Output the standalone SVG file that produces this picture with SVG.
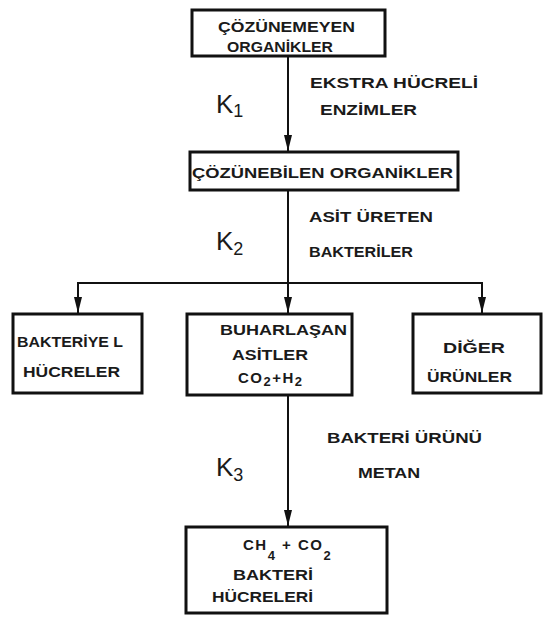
<svg xmlns="http://www.w3.org/2000/svg" width="546" height="619" viewBox="0 0 546 619">
<defs>
<style>
.box{fill:#fff;stroke:#111;stroke-width:3}
.ln{fill:none;stroke:#111;stroke-width:2}
.t{font-family:"Liberation Sans",Arial,sans-serif;font-weight:bold;font-size:15px;fill:#1a1a1a}
.k{font-family:"Liberation Sans",Arial,sans-serif;font-size:26px;fill:#1a1a1a}
.ks{font-family:"Liberation Sans",Arial,sans-serif;font-size:18px;fill:#1a1a1a}
.s{font-family:"Liberation Sans",Arial,sans-serif;font-weight:bold;font-size:13px;fill:#1a1a1a}
.f{letter-spacing:1.5px}
</style>
<marker id="ah" viewBox="0 0 16 8" refX="16" refY="4" markerWidth="16" markerHeight="8" markerUnits="userSpaceOnUse" orient="auto-start-reverse">
<path d="M0,0 L16,4 L0,8 Z" fill="#111"/>
</marker>
</defs>
<g id="connectors">
<line class="ln" x1="288" y1="57" x2="288" y2="151" marker-end="url(#ah)"/>
<line class="ln" x1="288" y1="190" x2="288" y2="313" marker-end="url(#ah)"/>
<polyline class="ln" points="78,313 78,283 482,283 482,313" marker-start="url(#ah)" marker-end="url(#ah)"/>
<line class="ln" x1="288" y1="395" x2="288" y2="526" marker-end="url(#ah)"/>
</g>
<g id="n1">
<rect class="box" x="192" y="10" width="193" height="46"/>
<text class="t" x="218" y="32" textLength="137" lengthAdjust="spacingAndGlyphs">ÇÖZÜNEMEYEN</text>
<text class="t" x="227" y="52" textLength="106" lengthAdjust="spacingAndGlyphs">ORGANİKLER</text>
</g>
<g id="l1">
<text class="k" x="216" y="113">K<tspan class="ks" dy="4">1</tspan></text>
<text class="t" x="310" y="88" textLength="168" lengthAdjust="spacingAndGlyphs">EKSTRA  HÜCRELİ</text>
<text class="t" x="320" y="115" textLength="97" lengthAdjust="spacingAndGlyphs">ENZİMLER</text>
</g>
<g id="n2">
<rect class="box" x="190" y="152" width="268" height="38"/>
<text class="t" x="192" y="178" textLength="261" lengthAdjust="spacingAndGlyphs">ÇÖZÜNEBİLEN  ORGANİKLER</text>
</g>
<g id="l2">
<text class="k" x="216" y="250">K<tspan class="ks" dy="5">2</tspan></text>
<text class="t" x="309" y="222" textLength="124" lengthAdjust="spacingAndGlyphs">ASİT  ÜRETEN</text>
<text class="t" x="309" y="257" textLength="104" lengthAdjust="spacingAndGlyphs">BAKTERİLER</text>
</g>
<g id="n3">
<rect class="box" x="13" y="314" width="129" height="79"/>
<text class="t" x="17" y="347" textLength="106" lengthAdjust="spacingAndGlyphs">BAKTERİYE L</text>
<text class="t" x="23" y="377" textLength="97" lengthAdjust="spacingAndGlyphs">HÜCRELER</text>
</g>
<g id="n4">
<rect class="box" x="187" y="314" width="165" height="81"/>
<text class="t" x="220" y="335" textLength="127" lengthAdjust="spacingAndGlyphs">BUHARLAŞAN</text>
<text class="t" x="232" y="360" textLength="76" lengthAdjust="spacingAndGlyphs">ASİTLER</text>
<text class="t f" x="238" y="383">CO<tspan class="s" dy="3">2</tspan><tspan dy="-3">+H</tspan><tspan class="s" dy="3">2</tspan></text>
</g>
<g id="n5">
<rect class="box" x="413" y="314" width="128" height="79"/>
<text class="t" x="443" y="353" textLength="62" lengthAdjust="spacingAndGlyphs">DİĞER</text>
<text class="t" x="427" y="382" textLength="85" lengthAdjust="spacingAndGlyphs">ÜRÜNLER</text>
</g>
<g id="l3">
<text class="k" x="216" y="476">K<tspan class="ks" dy="5">3</tspan></text>
<text class="t" x="327" y="443" textLength="155" lengthAdjust="spacingAndGlyphs">BAKTERİ  ÜRÜNÜ</text>
<text class="t" x="358" y="478" textLength="62" lengthAdjust="spacingAndGlyphs">METAN</text>
</g>
<g id="n6">
<rect class="box" x="186" y="527" width="201" height="86"/>
<text class="t f" x="243" y="550">CH<tspan class="s" dy="10">4</tspan><tspan dy="-10"> + CO</tspan><tspan class="s" dy="10">2</tspan></text>
<text class="t" x="233" y="580" textLength="80" lengthAdjust="spacingAndGlyphs">BAKTERİ</text>
<text class="t" x="212" y="602" textLength="101" lengthAdjust="spacingAndGlyphs">HÜCRELERİ</text>
</g>
</svg>
